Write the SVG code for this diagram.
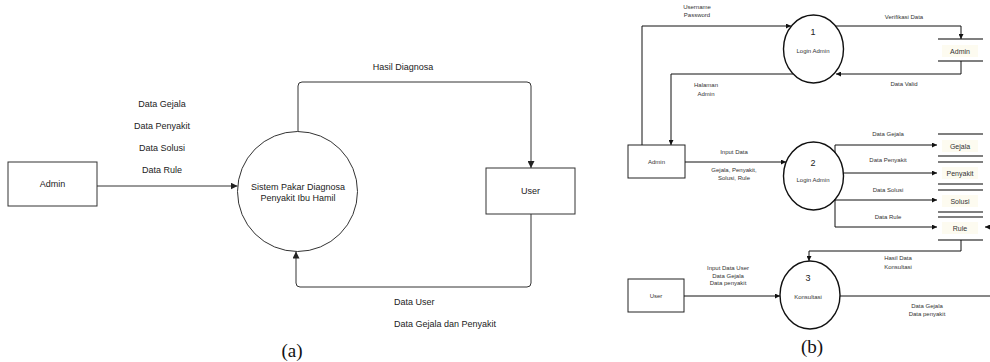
<svg xmlns="http://www.w3.org/2000/svg" width="990" height="362" viewBox="0 0 990 362">
<defs>
<marker id="arrA" viewBox="0 0 10 10" refX="10" refY="5" markerWidth="7" markerHeight="7" orient="auto" markerUnits="userSpaceOnUse"><path d="M0,0 L10,5 L0,10 z" fill="#222"/></marker>
<marker id="arrB" viewBox="0 0 10 10" refX="10" refY="5" markerWidth="5" markerHeight="5" orient="auto" markerUnits="userSpaceOnUse"><path d="M0,0 L10,5 L0,10 z" fill="#111"/></marker>
<style>
.ta{font-family:"Liberation Sans",Arial,sans-serif;font-size:9px;fill:#222;text-anchor:middle}
.tal{font-family:"Liberation Sans",Arial,sans-serif;font-size:9px;fill:#222}
.tb{font-family:"Liberation Sans",Arial,sans-serif;font-size:6px;fill:#333;text-anchor:middle}
.ts{font-family:"Liberation Sans",Arial,sans-serif;font-size:7px;fill:#333;text-anchor:middle}
.tn{font-family:"Liberation Sans",Arial,sans-serif;font-size:9px;fill:#222;text-anchor:middle}
.cap{font-family:"Liberation Serif","Times New Roman",serif;font-size:19px;fill:#111;text-anchor:middle}
.ea{fill:none;stroke:#333;stroke-width:1}
.eb{fill:none;stroke:#111;stroke-width:1}
.na{fill:#fff;stroke:#333;stroke-width:1}
.nb{fill:#fff;stroke:#222;stroke-width:1}
.nc{fill:#fff;stroke:#111;stroke-width:1.4}
.st{stroke:#555;stroke-width:1.5}
.sl{fill:#fdfbf0}
</style>
</defs>

<!-- Diagram (a) -->
<g id="a-admin">
<rect class="na" x="8" y="162" width="89" height="44"/>
<text class="ta" x="52.5" y="187">Admin</text>
</g>
<g id="a-system">
<circle class="na" cx="297.5" cy="191.5" r="60"/>
<text class="ta" x="298" y="190">Sistem Pakar Diagnosa</text>
<text class="ta" x="298" y="201">Penyakit Ibu Hamil</text>
</g>
<g id="a-user">
<rect class="na" x="486" y="168" width="89" height="46"/>
<text class="ta" x="530.5" y="194">User</text>
</g>
<g id="a-connectors">
<path class="ea" d="M97,186 L237.5,186" marker-end="url(#arrA)"/>
<path class="ea" d="M298,131.5 L298,86 Q298,82 302,82 L527,82 Q531,82 531,86 L531,168" marker-end="url(#arrA)"/>
<path class="ea" d="M531,214 L531,283 Q531,287 527,287 L300,287 Q296,287 296,283 L296,251.5" marker-end="url(#arrA)"/>
</g>
<g id="a-labels">
<text class="ta" x="162" y="107">Data Gejala</text>
<text class="ta" x="162" y="129">Data Penyakit</text>
<text class="ta" x="162" y="151">Data Solusi</text>
<text class="ta" x="162" y="173">Data Rule</text>
<text class="ta" x="403" y="70">Hasil Diagnosa</text>
<text class="tal" x="394" y="305">Data User</text>
<text class="tal" x="394" y="327">Data Gejala dan Penyakit</text>
</g>
<text class="cap" x="292" y="357">(a)</text>

<!-- Diagram (b) -->
<g id="b-p1">
<ellipse class="nc" cx="813.5" cy="49" rx="30" ry="34"/>
<text class="tn" x="813" y="35">1</text>
<text class="tb" x="813" y="53">Login Admin</text>
</g>
<g id="b-store-admin">
<line class="st" x1="938" y1="39" x2="983" y2="39"/>
<line class="st" x1="938" y1="61" x2="983" y2="61"/>
<rect class="sl" x="942" y="45" width="36" height="12"/>
<text class="ts" x="960" y="53.5">Admin</text>
</g>
<g id="b-admin">
<rect class="nb" x="628" y="145" width="57" height="33"/>
<text class="tb" x="656.5" y="164">Admin</text>
</g>
<g id="b-p2">
<ellipse class="nc" cx="813.5" cy="176" rx="30" ry="34"/>
<text class="tn" x="813" y="166">2</text>
<text class="tb" x="813" y="182">Login Admin</text>
</g>
<g id="b-store-gejala">
<line class="st" x1="938" y1="134" x2="983" y2="134"/>
<line class="st" x1="938" y1="156" x2="983" y2="156"/>
<rect class="sl" x="942" y="140" width="36" height="12"/>
<text class="ts" x="960" y="148.5">Gejala</text>
</g>
<g id="b-store-penyakit">
<line class="st" x1="938" y1="162" x2="983" y2="162"/>
<line class="st" x1="938" y1="184" x2="983" y2="184"/>
<rect class="sl" x="942" y="167" width="36" height="12"/>
<text class="ts" x="960" y="175.5">Penyakit</text>
</g>
<g id="b-store-solusi">
<line class="st" x1="938" y1="190" x2="983" y2="190"/>
<line class="st" x1="938" y1="212" x2="983" y2="212"/>
<rect class="sl" x="942" y="195" width="36" height="12"/>
<text class="ts" x="960" y="203.5">Solusi</text>
</g>
<g id="b-store-rule">
<line class="st" x1="938" y1="217" x2="983" y2="217"/>
<line class="st" x1="938" y1="240" x2="983" y2="240"/>
<rect class="sl" x="942" y="222" width="36" height="12"/>
<text class="ts" x="960" y="230.5">Rule</text>
</g>
<g id="b-p3">
<ellipse class="nc" cx="810" cy="295" rx="30" ry="34"/>
<text class="tn" x="808" y="281">3</text>
<text class="tb" x="808" y="299">Konsultasi</text>
</g>
<g id="b-user">
<rect class="nb" x="628" y="279" width="56" height="33"/>
<text class="tb" x="656" y="298">User</text>
</g>
<g id="b-connectors">
<path class="eb" d="M642,145 L642,26 L791,26" marker-end="url(#arrB)"/>
<path class="eb" d="M793,74 L671,74 L671,145" marker-end="url(#arrB)"/>
<path class="eb" d="M835,26 L961,26 L961,39" marker-end="url(#arrB)"/>
<path class="eb" d="M961,61 L961,74 L836,74" marker-end="url(#arrB)"/>
<path class="eb" d="M685,162 L786,162" marker-end="url(#arrB)"/>
<path class="eb" d="M835,153 L835,145 L937,145" marker-end="url(#arrB)"/>
<path class="eb" d="M843.5,173 L937,173" marker-end="url(#arrB)"/>
<path class="eb" d="M834,200 L937,200" marker-end="url(#arrB)"/>
<path class="eb" d="M835,199 L835,227 L937,227" marker-end="url(#arrB)"/>
<path class="eb" d="M990,227 L985,227" marker-end="url(#arrB)"/>
<path class="eb" d="M961,240 L961,251 L809,251 L809,261" marker-end="url(#arrB)"/>
<path class="eb" d="M684,296 L780,296" marker-end="url(#arrB)"/>
<path class="eb" d="M840,296 L990,296"/>
</g>
<g id="b-labels">
<text class="tb" x="697" y="9">Username</text>
<text class="tb" x="697" y="17">Password</text>
<text class="tb" x="706" y="87">Halaman</text>
<text class="tb" x="706" y="96">Admin</text>
<text class="tb" x="904" y="19">Verifikasi Data</text>
<text class="tb" x="904" y="86">Data Valid</text>
<text class="tb" x="734" y="154">Input Data</text>
<text class="tb" x="734" y="172">Gejala, Penyakit,</text>
<text class="tb" x="734" y="180">Solusi, Rule</text>
<text class="tb" x="888" y="136">Data Gejala</text>
<text class="tb" x="888" y="162">Data Penyakit</text>
<text class="tb" x="888" y="192">Data Solusi</text>
<text class="tb" x="888" y="219">Data Rule</text>
<text class="tb" x="898" y="260">Hasil Data</text>
<text class="tb" x="898" y="269">Konsultasi</text>
<text class="tb" x="728" y="270">Input Data User</text>
<text class="tb" x="728" y="278">Data Gejala</text>
<text class="tb" x="728" y="285">Data penyakit</text>
<text class="tb" x="927" y="308">Data Gejala</text>
<text class="tb" x="927" y="316">Data penyakit</text>
</g>
<text class="cap" x="812" y="353">(b)</text>
</svg>
